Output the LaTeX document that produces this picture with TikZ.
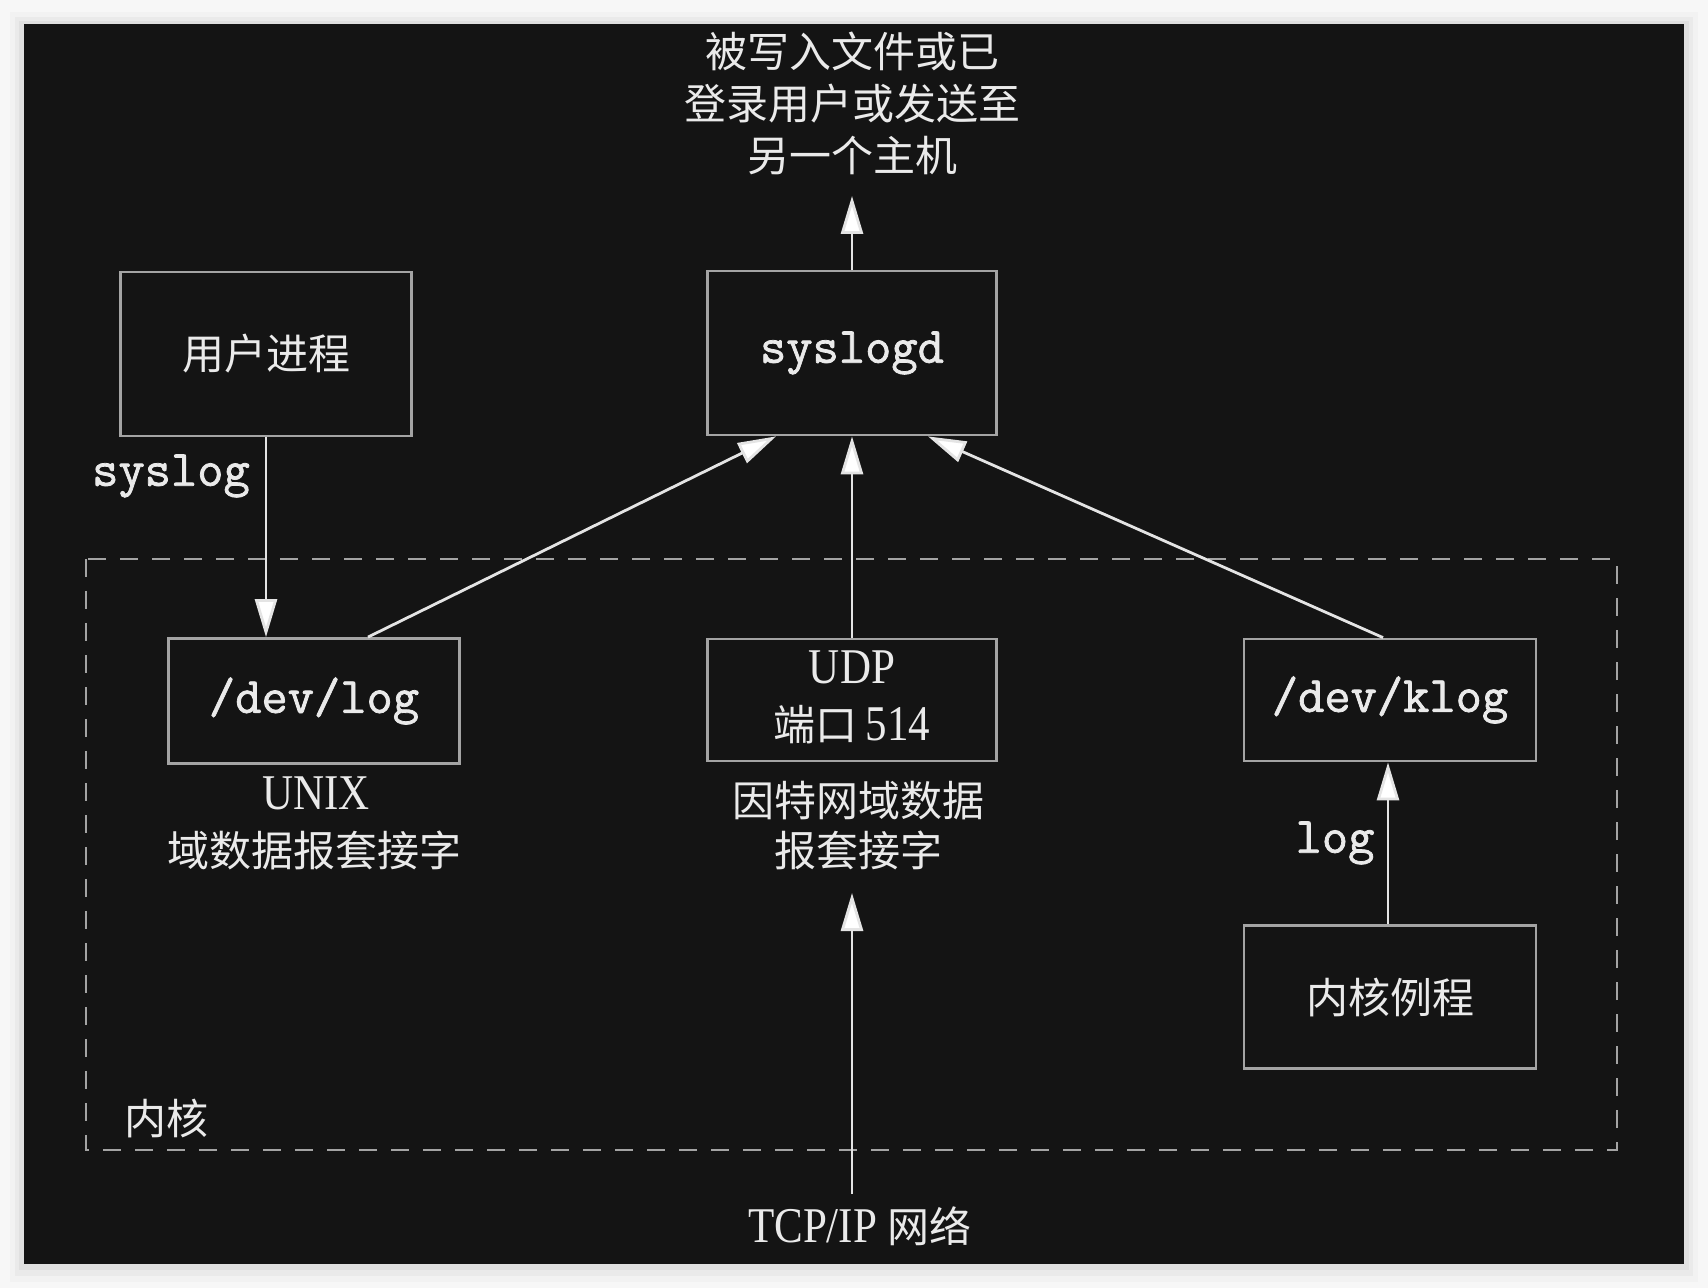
\documentclass[tikz,border=0pt]{standalone}
\usepackage{fontspec}
\setmainfont{Liberation Serif}[FakeStretch=0.86]
\setmonofont{Latin Modern Mono}[FakeBold=1.5]
\newfontfamily\cjk{Noto Sans CJK SC}
\usetikzlibrary{arrows.meta,calc}
\definecolor{bgdark}{HTML}{141414}
\definecolor{boxc}{HTML}{A4A4A4}
\definecolor{txtc}{HTML}{EAEAEA}
\definecolor{arrc}{HTML}{E4E4E4}
\definecolor{pagec}{HTML}{F7F7F7}
\tikzset{
  boxnode/.style={draw=boxc, line width=1.4pt, inner sep=0pt, text=txtc, align=center},
  cjktxt/.style={text=txtc, inner sep=0pt, align=center, font=\cjk\fontsize{21}{26}\selectfont},
  monotxt/.style={text=txtc, inner sep=0pt, font=\ttfamily\fontsize{25.5}{28}\selectfont},
  serftxt/.style={text=txtc, inner sep=0pt, font=\rmfamily\fontsize{25}{28}\selectfont},
  arr/.style={draw=arrc, line width=1.4pt, -{Triangle[length=19pt,width=11pt,fill=white]}},
  kernelbox/.style={draw=boxc, line width=1.3pt, dash pattern=on 9pt off 7pt},
}
\begin{document}
\begin{tikzpicture}[x=0.5pt,y=-0.5pt]
\useasboundingbox (0,0) rectangle (1708,1288);
\fill[pagec] (0,0) rectangle (1708,1288);
\fill[black,opacity=0.02] (10,12) rectangle (1698,1282);
\fill[black,opacity=0.03] (15,17) rectangle (1693,1276);
\fill[black,opacity=0.04] (19,21) rectangle (1689,1270);
\fill[bgdark] (24,24) rectangle (1684,1264);

% kernel dashed region
\draw[kernelbox] (86,559) rectangle (1617,1150);
\node[cjktxt] (kern) at (166,1118) {内核};

% destination text
\node[cjktxt] (dest) at (852,103) {被写入文件或已\\登录用户或发送至\\另一个主机};
\coordinate (desttip) at (852,196);

% boxes
\node[boxnode, minimum width=145.5pt, minimum height=82pt, font=\cjk\fontsize{21}{26}\selectfont] (user) at (266,354) {用户进程};
\node[boxnode, minimum width=144.5pt, minimum height=82pt, font=\ttfamily\fontsize{25.5}{28}\selectfont] (syslogd) at (852,353) {syslogd};
\node[boxnode, minimum width=145.5pt, minimum height=62.5pt, font=\ttfamily\fontsize{25.5}{28}\selectfont] (devlog) at (314,701) {/dev/log};
\node[boxnode, minimum width=144.5pt, minimum height=61pt] (udp) at (852,700) {};
\node[serftxt] (udpt) at (852,667) {UDP};
\node[serftxt] (udpp) at (852,725) {{\cjk\fontsize{21}{26}\selectfont 端口}\,514};
\node[boxnode, minimum width=146pt, minimum height=61pt, font=\ttfamily\fontsize{25.5}{28}\selectfont] (klog) at (1390,700) {/dev/klog};
\node[boxnode, minimum width=146pt, minimum height=71.5pt, font=\cjk\fontsize{21}{26}\selectfont] (kr) at (1390,997) {内核例程};

% labels
\node[monotxt] (lsyslog) at (171,476) {syslog};
\node[monotxt] (llog) at (1335,843) {log};
\node[serftxt] (unix) at (316,793) {UNIX};
\node[cjktxt] (unixd) at (314,850) {域数据报套接字};
\node[cjktxt] (inet) at (858,801) {因特网域数据};
\node[cjktxt] (inetd) at (858,850) {报套接字};
\node[serftxt] (tcp) at (860,1226) {TCP/IP\ {\cjk\fontsize{21}{26}\selectfont 网络}};
\coordinate (tcptip) at (852,893);
\coordinate (tcpstart) at (852,1194);

% connectors
\draw[arr] (syslogd.north) -- (desttip);
\draw[arr] (user.south) -- (user.south |- devlog.north);
\draw[arr] ($(devlog.north)+(54,0)$) -- ($(syslogd.south)+(-76,0)$);
\draw[arr] (udp.north) -- (syslogd.south);
\draw[arr] ($(klog.north)+(-7,0)$) -- ($(syslogd.south)+(76,0)$);
\draw[arr] (tcpstart) -- (tcptip);
\draw[arr] ($(kr.north)+(-2,0)$) -- ($(klog.south)+(-2,0)$);
\end{tikzpicture}
\end{document}
